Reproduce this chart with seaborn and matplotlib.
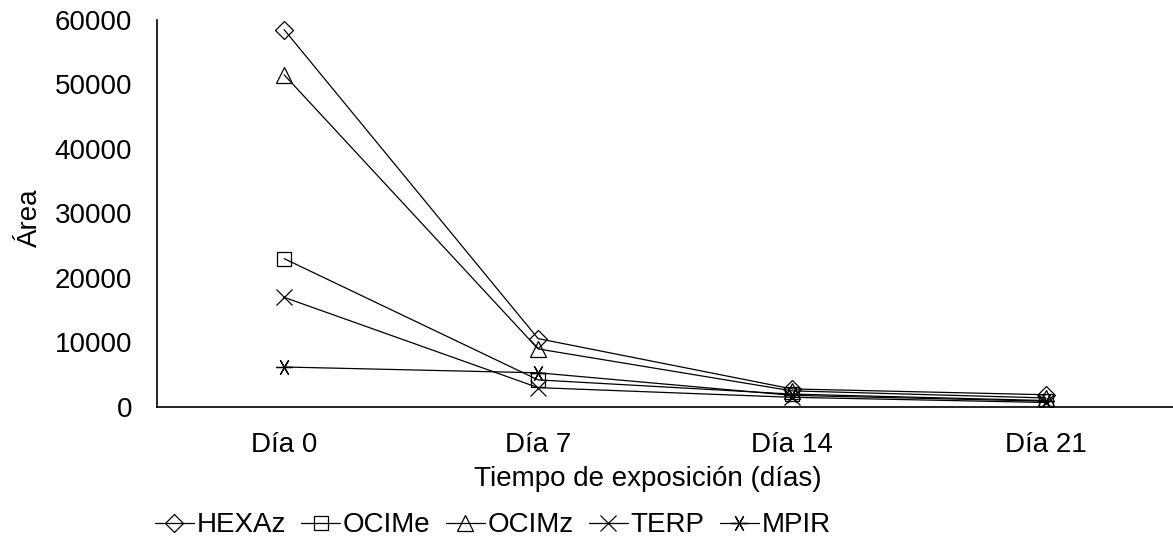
import matplotlib
matplotlib.use("Agg")
import matplotlib.pyplot as plt
import pandas as pd
import seaborn as sns

# Datos
dias = ["Día 0", "Día 7", "Día 14", "Día 21"]
series = ["HEXAz", "OCIMe", "OCIMz", "TERP", "MPIR"]
hexaz = [58500, 10600, 2800, 1900]
ocime = [23000, 4200, 2000, 1000]
ocimz = [51500, 9000, 2500, 1400]
terp = [17000, 3000, 1500, 700]
mpir = [6200, 5300, 1800, 900]
yticks = [0, 10000, 20000, 30000, 40000, 50000, 60000]

valores = {"HEXAz": hexaz, "OCIMe": ocime, "OCIMz": ocimz, "TERP": terp, "MPIR": mpir}
df = pd.DataFrame(
    [(d, s, v) for s in series for d, v in zip(dias, valores[s])],
    columns=["dia", "serie", "area"],
)
df["x"] = df["dia"].map({d: i for i, d in enumerate(dias)})

sns.set_theme(style="white")
plt.rcParams["font.family"] = ["Liberation Sans", "DejaVu Sans"]
plt.rcParams["text.color"] = "black"
plt.rcParams["axes.labelcolor"] = "black"
plt.rcParams["xtick.color"] = "black"
plt.rcParams["ytick.color"] = "black"

FS = 20

fig = plt.figure(figsize=(11.73, 5.46), dpi=100)
ax = fig.add_axes([0.134, 0.2546, 0.866, 0.7088])

marcadores = {"HEXAz": "D", "OCIMe": "s", "OCIMz": "^", "TERP": "x", "MPIR": (6, 2, 90)}
tamanos = {"HEXAz": 11, "OCIMe": 13, "OCIMz": 14, "TERP": 14, "MPIR": 15}

for s in series:
    sub = df[df["serie"] == s]
    sns.lineplot(
        data=sub, x="x", y="area", ax=ax, color="black", linewidth=0.9,
        marker=marcadores[s], markersize=tamanos[s], markerfacecolor="none",
        markeredgecolor="black", markeredgewidth=0.9, label=s,
    )

ax.set_xlim(-0.5, 3.5)
ax.set_ylim(0, 60000)
ax.set_xticks(range(len(dias)))
ax.set_xticklabels(dias, fontsize=FS)
ax.set_yticks(yticks)
ax.set_yticklabels([str(t) for t in yticks], fontsize=FS)
ax.tick_params(axis="y", length=0, pad=18)
ax.tick_params(axis="x", length=0, pad=18)
for side in ["top", "right"]:
    ax.spines[side].set_visible(False)
for side in ["bottom", "left"]:
    ax.spines[side].set_color("black")
    ax.spines[side].set_linewidth(1.2)
ax.set_xlabel("Tiempo de exposición (días)", fontsize=FS)
ax.xaxis.set_label_coords(0.483, -0.152)
ax.set_ylabel("Área", fontsize=FS)
ax.yaxis.set_label_coords(-0.112, 0.49)

h, l = ax.get_legend_handles_labels()
for hh in h:
    hh.set_markersize(hh.get_markersize() * 0.8)
ax.legend(
    h, l, loc="center", bbox_to_anchor=(0.42, 0.038), bbox_transform=fig.transFigure,
    ncol=5, frameon=False, fontsize=FS, handlelength=1.4, handletextpad=0.1,
    columnspacing=0.55, borderpad=0,
)

fig.savefig("out.png", dpi=100)
